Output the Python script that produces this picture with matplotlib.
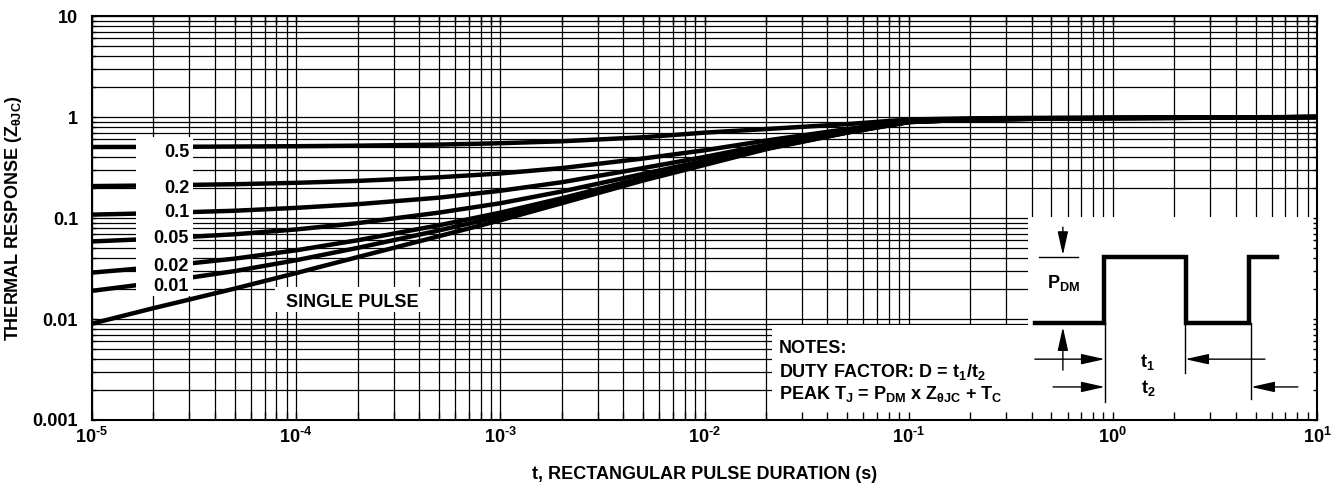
import matplotlib
matplotlib.use("Agg")
import matplotlib.pyplot as plt
from matplotlib.ticker import LogLocator, NullFormatter
from matplotlib.patches import Rectangle
import numpy as np

plt.rcParams['font.family'] = ['Liberation Sans', 'DejaVu Sans']
plt.rcParams['font.weight'] = 'bold'
plt.rcParams['mathtext.fontset'] = 'custom'
plt.rcParams['mathtext.rm'] = 'Liberation Sans:bold'
plt.rcParams['mathtext.it'] = 'Liberation Sans:bold'
plt.rcParams['mathtext.bf'] = 'Liberation Sans:bold'

# pulse duration (s) and thermal response
t = [1e-5, 2e-5, 5e-5, 1e-4, 2e-4, 5e-4, 1e-3, 2e-3, 5e-3, 1e-2, 2e-2,
     5e-2, 1e-1, 2e-1, 5e-1, 1, 2, 5, 10]
z_single = [0.009, 0.0128, 0.020, 0.0285, 0.041, 0.066, 0.095, 0.14, 0.235,
            0.335, 0.48, 0.70, 0.89, 0.94, 0.965, 0.975, 0.98, 0.99, 1.0]
z_001 = [0.019, 0.0227, 0.0298, 0.0382, 0.0506, 0.0753, 0.104, 0.149, 0.243,
         0.342, 0.485, 0.703, 0.891, 0.94, 0.965, 0.975, 0.98, 0.99, 1.0]
z_002 = [0.0288, 0.0325, 0.0396, 0.0479, 0.0602, 0.0847, 0.113, 0.157, 0.250,
         0.348, 0.490, 0.706, 0.892, 0.941, 0.966, 0.975, 0.98, 0.99, 1.0]
z_005 = [0.0586, 0.0622, 0.069, 0.077, 0.089, 0.113, 0.140, 0.183, 0.273,
         0.368, 0.506, 0.715, 0.896, 0.943, 0.967, 0.976, 0.981, 0.99, 1.0]
z_01 = [0.108, 0.1115, 0.118, 0.126, 0.137, 0.159, 0.186, 0.226, 0.312,
        0.402, 0.532, 0.73, 0.90, 0.946, 0.968, 0.977, 0.982, 0.99, 1.0]
z_02 = [0.207, 0.210, 0.216, 0.223, 0.233, 0.253, 0.276, 0.312, 0.388,
        0.468, 0.584, 0.76, 0.912, 0.952, 0.972, 0.98, 0.984, 0.991, 1.0]
z_05 = [0.5045, 0.506, 0.51, 0.514, 0.52, 0.533, 0.55, 0.575, 0.63,
        0.70, 0.76, 0.85, 0.945, 0.97, 0.982, 0.987, 0.99, 0.995, 1.0]
curves = [z_05, z_02, z_01, z_005, z_002, z_001, z_single]
curve_labels = ['0.5', '0.2', '0.1', '0.05', '0.02', '0.01']
label_y = [0.652, 0.561, 0.502, 0.439, 0.370, 0.320]   # axes fraction (baseline)

x_ticks = [1e-5, 1e-4, 1e-3, 1e-2, 1e-1, 1, 10]
x_tick_labels = [r'$10^{\text{-}5}$', r'$10^{\text{-}4}$', r'$10^{\text{-}3}$',
                 r'$10^{\text{-}2}$', r'$10^{\text{-}1}$', r'$10^{0}$', r'$10^{1}$']
y_ticks = [0.001, 0.01, 0.1, 1, 10]
y_tick_labels = ['0.001', '0.01', '0.1', '1', '10']

FS = 13

fig = plt.figure(figsize=(13.4, 4.91), dpi=100)
rect = [92 / 1340, 71 / 491, 1225 / 1340, 404 / 491]
ax_bg = fig.add_axes(rect, zorder=0)
ax = fig.add_axes(rect, zorder=1)

for a in (ax_bg, ax):
    a.set_xscale('log')
    a.set_yscale('log')
    a.set_xlim(1e-5, 10)
    a.set_ylim(1e-3, 10)
    for axis in (a.xaxis, a.yaxis):
        axis.set_major_locator(LogLocator(base=10, numticks=20))
        axis.set_minor_locator(LogLocator(base=10, subs=np.arange(2, 10), numticks=20))
        axis.set_minor_formatter(NullFormatter())

# background grid (drawn under everything)
ax_bg.grid(which='both', color='black', lw=0.9)
ax_bg.tick_params(which='both', length=0, labelbottom=False, labelleft=False)
for s in ax_bg.spines.values():
    s.set_visible(False)

ax.patch.set_visible(False)
ax.set_axisbelow(False)
for c in curves:
    ax.plot(t, c, color='black', lw=3.2, zorder=2, solid_capstyle='butt')

# white masks
masks = [(0.0359, 0.307, 0.0465, 0.393),   # duty-cycle labels
         (0.149, 0.267, 0.127, 0.062),     # single pulse label
         (0.555, 0.0, 0.445, 0.235),       # notes
         (0.764, 0.0, 0.236, 0.502)]       # pulse sketch
for x0, y0, w, h in masks:
    ax.add_patch(Rectangle((x0, y0), w, h, transform=ax.transAxes,
                           facecolor='white', edgecolor='none', zorder=2.2))

ax.set_xticks(x_ticks, labels=x_tick_labels)
ax.set_yticks(y_ticks, labels=y_tick_labels)
ax.tick_params(axis='x', which='both', direction='in', length=6, width=1,
               top=True, pad=5, labelsize=FS)
ax.tick_params(axis='y', which='both', direction='in', length=3, width=1,
               right=True, pad=10, labelsize=FS)
for s in ax.spines.values():
    s.set_linewidth(1.5)

ax.set_xlabel('t, RECTANGULAR PULSE DURATION (s)', fontsize=FS, fontweight='bold')
ax.set_ylabel(r'THERMAL RESPONSE (Z$_{θJC}$)', fontsize=FS, fontweight='bold')
ax.xaxis.set_label_coords(0.5, -0.114)
ax.yaxis.set_label_coords(-0.0555, 0.5)

for lab, yy in zip(curve_labels, label_y):
    ax.text(0.0792, yy, lab, transform=ax.transAxes, ha='right', va='baseline',
            fontsize=FS, fontweight='bold', zorder=3)
ax.text(0.2127, 0.280, 'SINGLE PULSE', transform=ax.transAxes, ha='center',
        va='baseline', fontsize=FS, fontweight='bold', zorder=3)

notes = ['NOTES:', r'DUTY FACTOR: D = t$_1$/t$_2$',
         r'PEAK T$_J$ = P$_{DM}$ x Z$_{θJC}$ + T$_C$']
for line, yy in zip(notes, [0.166, 0.107, 0.051]):
    ax.text(0.561, yy, line, transform=ax.transAxes, ha='left', va='baseline',
            fontsize=FS, fontweight='bold', zorder=3)

# pulse sketch
ins = ax.inset_axes([0.764, 0.0, 0.236, 0.502])
ins.set_xlim(0, 1)
ins.set_ylim(0, 1)
ins.axis('off')
pulse_u = [0.024, 0.263, 0.263, 0.547, 0.547, 0.765, 0.765, 0.862]
pulse_v = [0.478, 0.478, 0.803, 0.803, 0.478, 0.478, 0.803, 0.803]
ins.plot(pulse_u, pulse_v, color='black', lw=3.2, solid_joinstyle='miter')
ins.plot([0.038, 0.173], [0.803, 0.803], color='black', lw=1.0)
for u, v0, v1 in [(0.268, 0.478, 0.089), (0.542, 0.478, 0.232), (0.770, 0.478, 0.103)]:
    ins.plot([u, u], [v0, v1], color='black', lw=1.0)

arrows = [((0.121, 0.951), (0.121, 0.813)),
          ((0.121, 0.246), (0.121, 0.458)),
          ((0.024, 0.300), (0.266, 0.300)),
          ((0.820, 0.300), (0.544, 0.300)),
          ((0.087, 0.163), (0.266, 0.163)),
          ((0.934, 0.163), (0.772, 0.163))]
for tail, tip in arrows:
    ins.annotate('', xy=tip, xytext=tail,
                 arrowprops=dict(arrowstyle='-|>,head_length=0.9,head_width=0.2',
                                 color='black', lw=1.0, shrinkA=0, shrinkB=0,
                                 mutation_scale=16))

ins.text(0.066, 0.649, r'P$_{DM}$', ha='left', va='baseline', fontsize=FS, fontweight='bold')
ins.text(0.415, 0.263, r't$_1$', ha='center', va='baseline', fontsize=FS, fontweight='bold')
ins.text(0.415, 0.134, r't$_2$', ha='center', va='baseline', fontsize=FS, fontweight='bold')

fig.savefig('out.png', dpi=100, facecolor='white')
